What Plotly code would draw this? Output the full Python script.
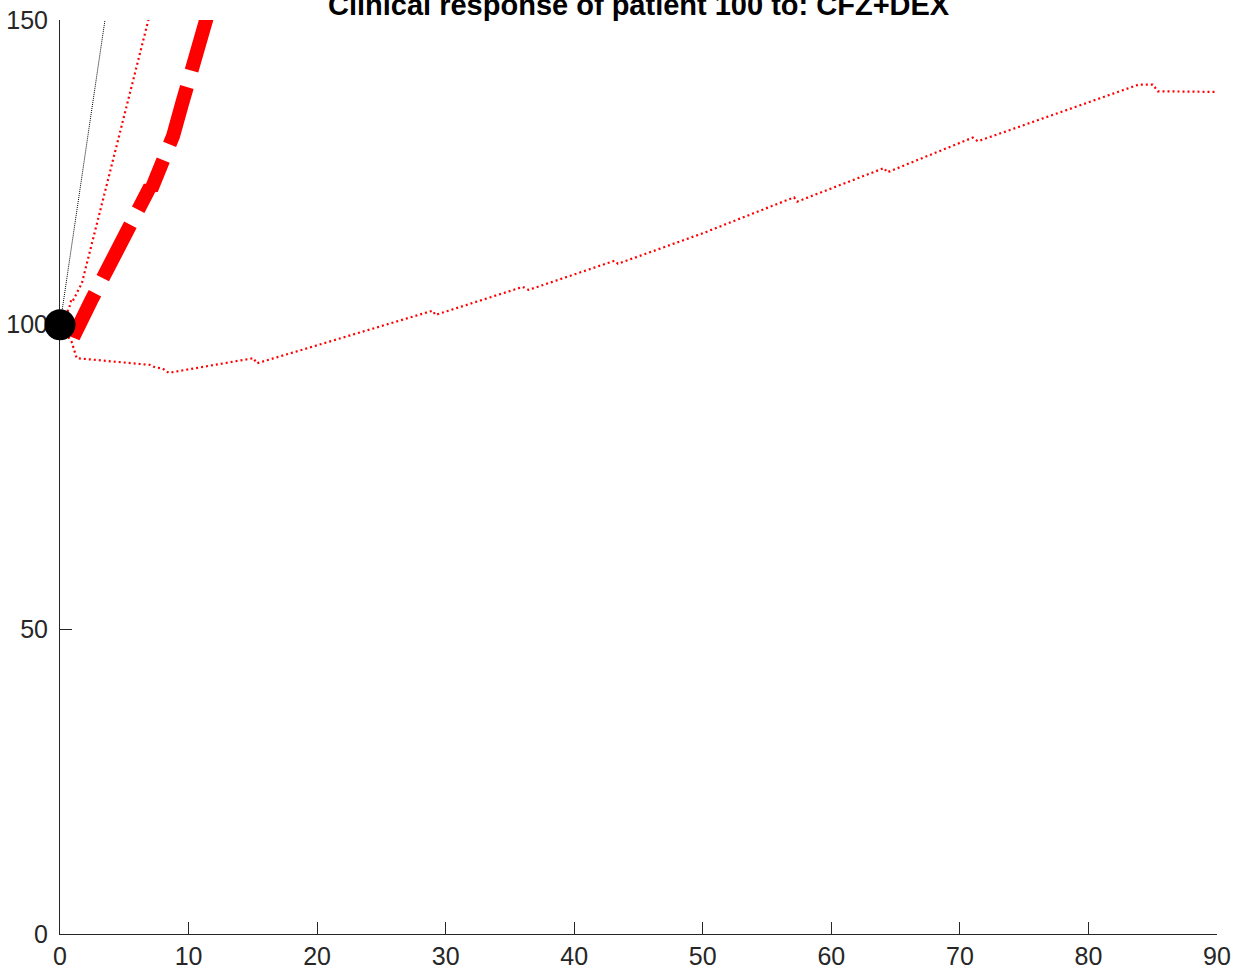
import plotly.graph_objects as go

# ---- data ----
title_text = "Clinical response of patient 100 to: CFZ+DEX"

x_ticks = [0, 10, 20, 30, 40, 50, 60, 70, 80, 90]
y_ticks = [0, 50, 100, 150]

# thin black dotted line
black_x = [0, 3.5]
black_y = [100, 150]

# upper red dotted bound
upper_x = [0, 0.7, 0.9, 1.05, 1.7, 6.9]
upper_y = [100, 102.6, 104.3, 104.1, 106.8, 150.2]

# thick red dashed line (median response)
median_x = [0, 1.25, 2.41, 4.02, 4.74, 7.0, 7.1, 7.96, 8.05, 8.8, 9.5, 10.2, 10.9, 11.2, 11.5]
median_y = [100, 98.9, 103.9, 110.9, 113.3, 122.6, 122.2, 126.7, 127.3, 131.0, 136.3, 141.5, 146.6, 148.6, 151.0]

# lower red dotted bound
lower_x = [0, 0.9, 1.3, 7.0, 7.4, 8.0, 8.45, 15.05, 15.3, 22, 29.0, 29.2, 36.0, 36.45,
           43.15, 43.4, 50, 57.1, 57.35, 64.1, 64.35, 71.0, 71.4, 78, 83.9, 85.0, 85.4, 89.9]
lower_y = [100, 97.2, 94.5, 93.4, 93.0, 92.8, 92.1, 94.5, 93.65, 97.9, 102.3, 101.6, 106.2, 105.7,
           110.5, 110.0, 115.0, 120.9, 120.2, 125.7, 125.0, 130.7, 130.1, 135.0, 139.4, 139.4, 138.3, 138.2]

# starting measurement
start_x = [0]
start_y = [100]

AX = "#262626"
FONT = "Liberation Sans, Arial, Helvetica, sans-serif"

fig = go.Figure()
fig.add_trace(go.Scatter(x=black_x, y=black_y, mode="lines",
                         line=dict(color="black", width=1, dash="1px,1px"),
                         showlegend=False, hoverinfo="skip"))
fig.add_trace(go.Scatter(x=upper_x, y=upper_y, mode="lines",
                         line=dict(color="#ff0000", width=2.2, dash="2px,3px"),
                         showlegend=False, hoverinfo="skip"))
fig.add_trace(go.Scatter(x=lower_x, y=lower_y, mode="lines",
                         line=dict(color="#ff0000", width=2.2, dash="2px,3px"),
                         showlegend=False, hoverinfo="skip"))
fig.add_trace(go.Scatter(x=median_x, y=median_y, mode="lines",
                         line=dict(color="#ff0000", width=14, dash="60px,17px"),
                         showlegend=False, hoverinfo="skip"))
fig.add_trace(go.Scatter(x=start_x, y=start_y, mode="markers",
                         marker=dict(color="black", size=31, line=dict(width=0)),
                         cliponaxis=False, showlegend=False, hoverinfo="skip"))

fig.update_layout(
    width=1241, height=972,
    margin=dict(l=60, r=24, t=20, b=38, pad=0, autoexpand=False),
    paper_bgcolor="white", plot_bgcolor="white",
    font=dict(family=FONT, color=AX),
    annotations=[dict(text="<b>" + title_text + "</b>", xref="paper", yref="paper",
                      x=0.5, y=1.0, xanchor="center", yanchor="bottom", yshift=-3,
                      showarrow=False,
                      font=dict(family=FONT, size=29, color="black"))],
)
fig.update_xaxes(range=[0, 90], tickvals=x_ticks, ticktext=[str(v) for v in x_ticks],
                 ticks="inside", ticklen=12, tickwidth=1, tickcolor=AX,
                 showline=True, linecolor=AX, linewidth=1, showgrid=False, zeroline=False,
                 automargin=False,
                 tickfont=dict(family=FONT, size=25, color=AX), layer="below traces")
fig.update_yaxes(range=[0, 150], tickvals=y_ticks, ticktext=[str(v) for v in y_ticks],
                 ticks="inside", ticklen=12, tickwidth=1, tickcolor=AX,
                 showline=True, linecolor=AX, linewidth=1, showgrid=False, zeroline=False,
                 automargin=False, ticklabelstandoff=6,
                 tickfont=dict(family=FONT, size=25, color=AX), layer="below traces")

fig.write_html("out.html", config={"displayModeBar": False},
               post_script="document.body.style.margin='0';document.body.style.overflow='hidden';")
